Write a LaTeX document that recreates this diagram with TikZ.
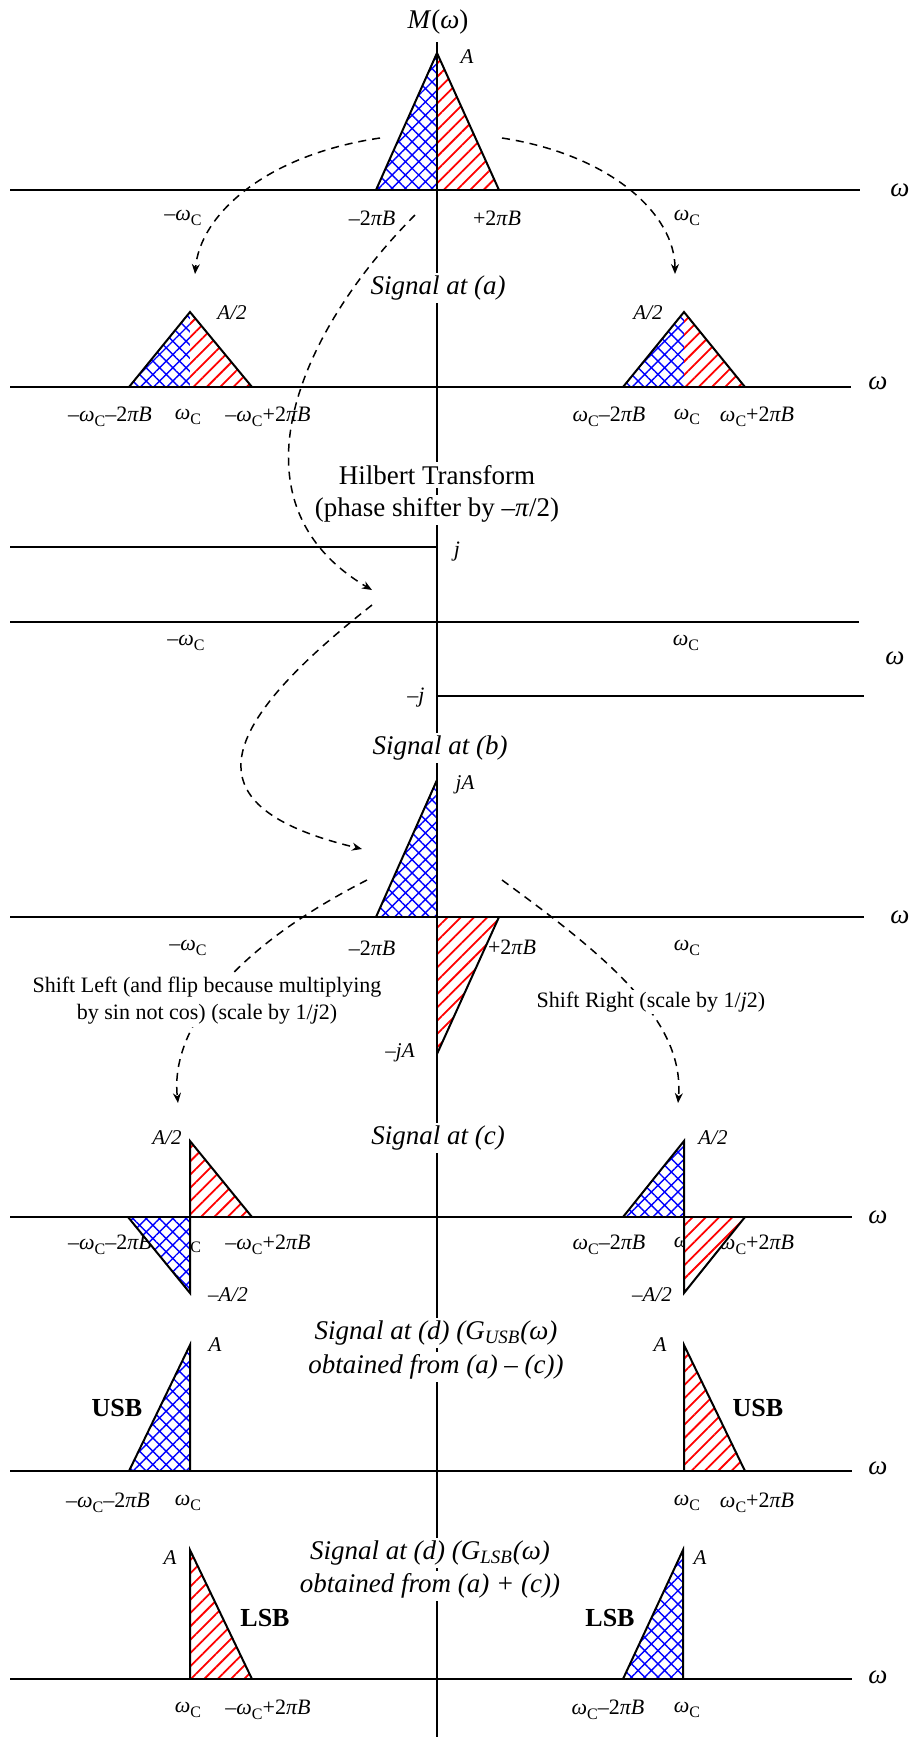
\documentclass[tikz,border=0pt]{standalone}
\usepackage{fontspec}
\setmainfont{Liberation Serif}
\usetikzlibrary{patterns.meta,arrows.meta}
\newcommand\wc{\textit{ω}\raisebox{-0.45ex}{\fontsize{8}{9}\selectfont C}}
\newcommand\tpb{2\textit{πB}}
\newcommand\mytri[2]{\fill[white] #2; \fill[#1] #2;}
\begin{document}
\begin{tikzpicture}[x=0.5pt,y=-0.5pt,
  axis/.style={line width=1pt},
  outl/.style={line width=1pt, line join=miter},
  bluefill/.style={pattern={Hatch[angle=45,distance=4.7pt,line width=0.7pt]},pattern color=blue},
  redfill/.style={pattern={Lines[angle=45,distance=4.7pt,line width=0.9pt]},pattern color=red},
  lab/.style={font=\fontsize{11}{13}\selectfont, inner sep=0.5pt},
  alab/.style={font=\fontsize{10.5}{12}\selectfont\itshape, inner sep=0pt},
  wlab/.style={font=\fontsize{13.5}{16}\selectfont\itshape, inner sep=0pt},
  title/.style={font=\fontsize{13.5}{16}\selectfont\itshape, fill=white, inner sep=1.5pt},
  htitle/.style={font=\fontsize{13.5}{16}\selectfont, fill=white, inner sep=1.5pt},
  note/.style={font=\fontsize{11}{13.5}\selectfont, fill=white, inner sep=1pt, align=center},
  sb/.style={font=\fontsize{13}{15}\selectfont\bfseries},
  dsh/.style={line width=0.75pt, dash pattern=on 4pt off 3pt, -{Stealth[length=5pt,width=4pt]}},
]
\fill[white] (0,0) rectangle (911,1737);
\useasboundingbox (0,0) rectangle (911,1737);

% ---------- labels ----------
% panel 0
\node[lab] (l0a) at (183,218) {–\wc};
\node[lab] (l0b) at (372,218) {–\tpb};
\node[lab] (l0c) at (497,218) {+\tpb};
\node[lab] (l0d) at (687,218) {\wc};
% panel a
\node[lab] (laa) at (110,417) {–\wc–\tpb};
\node[lab] (lab) at (188,417) {\wc};
\node[lab] (lac) at (268,417) {–\wc+\tpb};
\node[lab] (lad) at (609,417) {\wc–\tpb};
\node[lab] (lae) at (687,417) {\wc};
\node[lab] (laf) at (757,417) {\wc+\tpb};
% hilbert
\node[lab] (lha) at (186,643) {–\wc};
\node[lab] (lhb) at (686,643) {\wc};
\node[lab] (lhj) at (457,552) {\textit{j}};
\node[lab] (lhmj) at (416,698) {–\textit{j}};
% panel b
\node[lab] (lba) at (188,948) {–\wc};
\node[lab] (lbb) at (372,948) {–\tpb};
\node[lab] (lbc) at (512,947) {+\tpb};
\node[lab] (lbd) at (687,948) {\wc};
% panel c
\node[lab] (lca) at (110,1245) {–\wc–\tpb};
\node[lab] (lcb) at (188,1245) {\wc};
\node[lab] (lcc) at (268,1245) {–\wc+\tpb};
\node[lab] (lcd) at (609,1245) {\wc–\tpb};
\node[lab] (lce) at (687,1245) {\wc};
\node[lab] (lcf) at (757,1245) {\wc+\tpb};
% panel d
\node[lab] (lda) at (108,1503) {–\wc–\tpb};
\node[lab] (ldb) at (188,1503) {\wc};
\node[lab] (ldc) at (687,1503) {\wc};
\node[lab] (ldd) at (757,1503) {\wc+\tpb};
% panel e
\node[lab] (lea) at (188,1710) {\wc};
\node[lab] (leb) at (268,1710) {–\wc+\tpb};
\node[lab] (lec) at (608,1710) {\wc–\tpb};
\node[lab] (led) at (687,1710) {\wc};

% ---------- pattern fills ----------
% panel 0
\mytri{bluefill}{(376,190)--(437,53)--(437,190)--cycle}
\mytri{redfill}{(437,190)--(437,53)--(499,190)--cycle}
% panel a
\mytri{bluefill}{(129,387)--(190,312)--(190,387)--cycle}
\mytri{redfill}{(190,387)--(190,312)--(252,387)--cycle}
\mytri{bluefill}{(623,387)--(684,312)--(684,387)--cycle}
\mytri{redfill}{(684,387)--(684,312)--(745,387)--cycle}
% panel b
\mytri{bluefill}{(376,917)--(437,780)--(437,917)--cycle}
\mytri{redfill}{(437,917)--(499,917)--(437,1054)--cycle}
% panel c
\mytri{redfill}{(190,1141)--(190,1217)--(252,1217)--cycle}
\mytri{bluefill}{(128,1217)--(190,1217)--(190,1293)--cycle}
\mytri{bluefill}{(623,1217)--(684,1141)--(684,1217)--cycle}
\mytri{redfill}{(684,1217)--(745,1217)--(684,1293)--cycle}
% panel d
\mytri{bluefill}{(129,1471)--(190,1345)--(190,1471)--cycle}
\mytri{redfill}{(684,1345)--(684,1471)--(745,1471)--cycle}
% panel e
\mytri{redfill}{(190,1550)--(190,1679)--(252,1679)--cycle}
\mytri{bluefill}{(623,1679)--(683,1550)--(683,1679)--cycle}

% ---------- axes ----------
\draw[axis] (437,42) -- (437,1737);
\draw[axis] (10,190) -- (860,190);
\draw[axis] (10,387) -- (851,387);
\draw[axis] (10,547) -- (437,547);
\draw[axis] (10,622) -- (859,622);
\draw[axis] (437,696) -- (864,696);
\draw[axis] (10,917) -- (864,917);
\draw[axis] (10,1217) -- (852,1217);
\draw[axis] (10,1471) -- (852,1471);
\draw[axis] (10,1679) -- (852,1679);

% ---------- outlines ----------
\draw[outl] (376,190)--(437,53)--(499,190);
\draw[outl] (129,387)--(190,312)--(252,387);
\draw[outl] (623,387)--(684,312)--(745,387);
\draw[outl] (376,917)--(437,780);
\draw[outl] (499,917)--(437,1054);
\draw[outl] (190,1217)--(190,1141)--(252,1217);
\draw[outl] (128,1217)--(190,1293)--(190,1217);
\draw[outl] (623,1217)--(684,1141)--(684,1217);
\draw[outl] (745,1217)--(684,1293)--(684,1217);
\draw[outl] (129,1471)--(190,1345)--(190,1471);
\draw[outl] (684,1471)--(684,1345)--(745,1471);
\draw[outl] (190,1679)--(190,1550)--(252,1679);
\draw[outl] (623,1679)--(683,1550)--(683,1679);

% ---------- value labels ----------
\node[alab] (vA0) at (467,57) {A};
\node[alab] (vAa1) at (232,313) {A/2};
\node[alab] (vAa2) at (648,313) {A/2};
\node[alab] (vjA) at (465,785) {jA};
\node[alab] (vmjA) at (400,1053) {–jA};
\node[alab] (vAc1) at (167,1138) {A/2};
\node[alab] (vAc2) at (713,1138) {A/2};
\node[alab] (vAc3) at (228,1295) {–A/2};
\node[alab] (vAc4) at (652,1295) {–A/2};
\node[alab] (vAd1) at (215,1345) {A};
\node[alab] (vAd2) at (660,1345) {A};
\node[alab] (vAe1) at (170,1558) {A};
\node[alab] (vAe2) at (700,1558) {A};
\node[sb] (usb1) at (117,1408) {USB};
\node[sb] (usb2) at (758,1408) {USB};
\node[sb] (lsb1) at (265,1618) {LSB};
\node[sb] (lsb2) at (610,1618) {LSB};

% omega axis labels
\node[wlab] (w0) at (900,190) {ω};
\node[wlab] (wa) at (878,383) {ω};
\node[wlab] (wh) at (895,658) {ω};
\node[wlab] (wb) at (900,917) {ω};
\node[wlab] (wc) at (878,1217) {ω};
\node[wlab] (wd) at (878,1468) {ω};
\node[wlab] (we) at (878,1677) {ω};

% ---------- dashed connectors ----------
\coordinate (a0L) at (380,138);
\coordinate (a1L) at (195,274);
\coordinate (a0R) at (502,138);
\coordinate (a1R) at (675,274);
\coordinate (h0) at (415,215);
\coordinate (h1) at (372,590);
\coordinate (h2) at (372,605);
\coordinate (b1) at (362,849);
\coordinate (b2) at (367,880);
\coordinate (c1L) at (178,1103);
\coordinate (b3) at (502,880);
\coordinate (c1R) at (678,1103);
\draw[dsh] (a0L) .. controls (265,155) and (200,215) .. (a1L);
\draw[dsh] (a0R) .. controls (612,155) and (675,215) .. (a1R);
\draw[dsh] (h0) .. controls (305,325) and (220,500) .. (h1);
\draw[dsh] (h2) .. controls (200,740) and (200,810) .. (b1);
\draw[dsh] (b2) .. controls (230,950) and (170,1030) .. (c1L);
\draw[dsh] (b3) .. controls (605,955) and (685,1020) .. (c1R);

% ---------- notes ----------
\node[note] (nl) at (207,1001) {Shift Left (and flip because multiplying\\by sin not cos) (scale by 1/\textit{j}2)};
\node[note] (nr) at (651,1002) {Shift Right (scale by 1/\textit{j}2)};

% ---------- titles ----------
\node[font=\fontsize{13.5}{16}\selectfont, inner sep=1pt] (tM) at (438,22) {\textit{M}(\textit{ω})};
\node[title] (ta) at (438,288) {Signal at (a)};
\node[htitle] (th1) at (437,475) {Hilbert Transform};
\node[htitle] (th2) at (437,510) {(phase shifter by –\textit{π}/2)};
\node[title] (tb) at (440,748) {Signal at (b)};
\node[title] (tc) at (438,1138) {Signal at (c)};
\node[title] (td1) at (436,1333) {Signal at (d) (G\textsubscript{USB}(ω)};
\node[title] (td2) at (436,1367) {obtained from (a) – (c))};
\node[title] (te1) at (430,1553) {Signal at (d) (G\textsubscript{LSB}(ω)};
\node[title] (te2) at (430,1586) {obtained from (a) + (c))};
\end{tikzpicture}
\end{document}
